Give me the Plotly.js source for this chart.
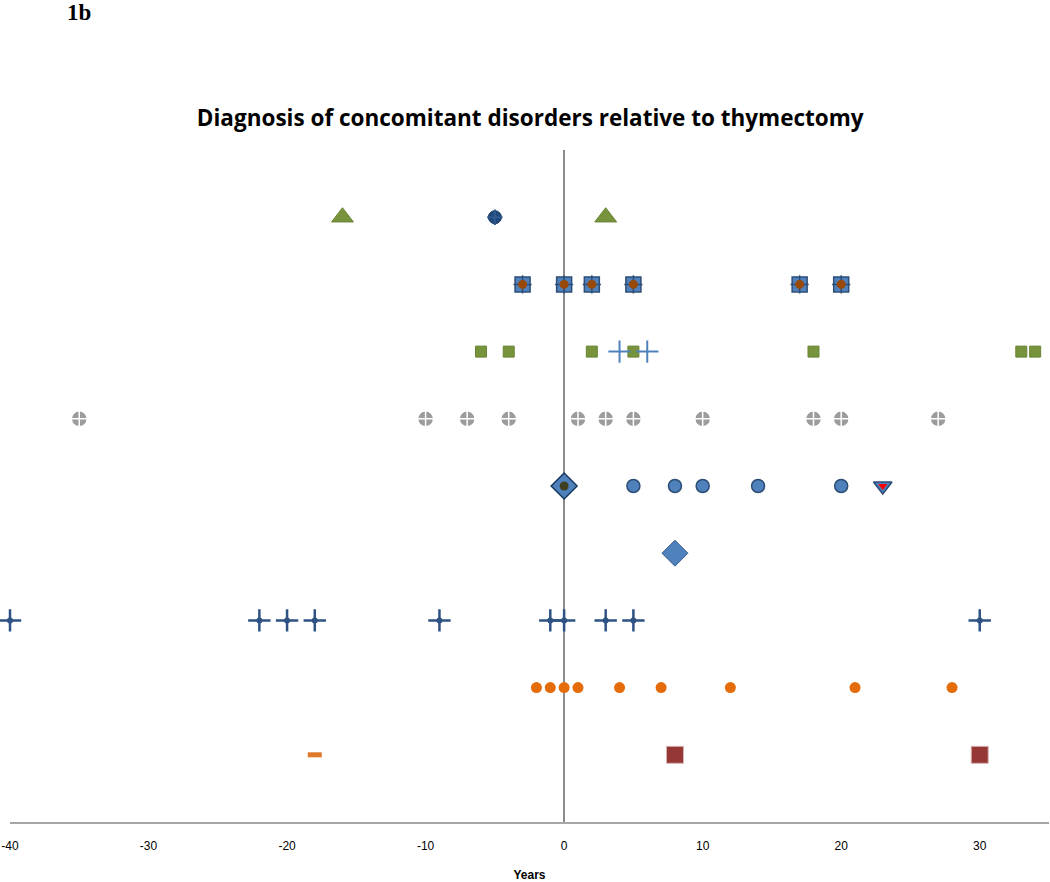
<!DOCTYPE html>
<html><head><meta charset="utf-8">
<script src="https://cdn.plot.ly/plotly-3.0.1.min.js"></script>
<style>body{margin:0;background:#fff}#chart{width:1050px;height:882px}
#lbl{position:absolute;left:67px;top:0px;z-index:10;font-family:"Liberation Serif",serif;font-weight:bold;font-size:23px}</style>
</head><body>
<div id="lbl">1b</div>
<div id="chart"></div>
<script>
// Row positions (1 = bottom row ... 9 = top row)
const row9Triangles = [-16, 3];
const row9Navy = [-5];
const row8Squares = [-3, 0, 2, 5, 17, 20];
const row7Green = [-6, -4, 2, 5, 18, 33, 34];
const row7ThinCross = [4, 6];
const row6Grey = [-35, -10, -7, -4, 1, 3, 5, 10, 18, 20, 27];
const row5Diamond = [0];
const row5Circles = [5, 8, 10, 14, 20];
const row5TriDown = [23];
const row4Diamond = [8];
const row3Cross = [-40, -22, -20, -18, -9, -1, 0, 3, 5, 30];
const row2Orange = [-2, -1, 0, 1, 4, 7, 12, 21, 28];
const row1Dash = [-18];
const row1Squares = [8, 30];

function rowY(xs, r){ return xs.map(()=>r); }
function tr(xs, r, marker){ return {x: xs, y: rowY(xs, r), type:'scatter', mode:'markers', marker: marker, hoverinfo:'x', showlegend:false, cliponaxis:false}; }

const data = [
  tr(row9Triangles, 9, {symbol:'triangle-up', size:19, color:'#77933C', line:{color:'#6a8535', width:1}}),
  tr(row9Navy, 9, {symbol:'circle', size:13, color:'#1F497D', line:{color:'#17375E', width:1}}),
  tr(row9Navy, 9, {symbol:'cross-thin', size:11, line:{color:'#2E5A8E', width:2}}),
  tr(row8Squares, 8, {symbol:'square', size:15, color:'#4F81BD', line:{color:'#2C4D75', width:1.5}}),
  tr(row8Squares, 8, {symbol:'cross-thin', size:13, line:{color:'#2C4D75', width:1.5}}),
  tr(row8Squares, 8, {symbol:'circle', size:9, color:'#984807', line:{width:0}}),
  tr(row7Green, 7, {symbol:'square', size:11, color:'#77933C', line:{color:'#6a8535', width:1}}),
  tr(row7ThinCross, 7, {symbol:'cross-thin', size:16, line:{color:'#4F81BD', width:2}}),
  tr(row6Grey, 6, {symbol:'circle-cross', size:16, color:'#9C9C9C', line:{color:'#ffffff', width:1.5}}),
  tr(row5Diamond, 5, {symbol:'diamond', size:20, color:'#4F81BD', line:{color:'#17375E', width:1.5}}),
  tr(row5Diamond, 5, {symbol:'circle', size:9, color:'#3F3F22', line:{width:0}}),
  tr(row5Circles, 5, {symbol:'circle', size:13, color:'#4F81BD', line:{color:'#2C4D75', width:1.5}}),
  tr(row5TriDown, 5, {symbol:'triangle-down', size:16, color:'#4F81BD', line:{color:'#2C4D75', width:1.5}}),
  tr(row5TriDown, 5, {symbol:'triangle-down', size:8, color:'#FF0000', line:{width:0}}),
  tr(row4Diamond, 4, {symbol:'diamond', size:20, color:'#4F81BD', line:{color:'#385D8A', width:1}}),
  tr(row3Cross, 3, {symbol:'cross-thin', size:16, line:{color:'#2E5283', width:2.5}}),
  tr(row3Cross, 3, {symbol:'circle', size:6, color:'#2E5283', line:{width:0}}),
  tr(row2Orange, 2, {symbol:'circle', size:11, color:'#E46C0A', line:{width:0}}),
  tr(row1Dash, 1, {symbol:'line-ew', size:10, line:{color:'#E0782A', width:5}}),
  tr(row1Squares, 1, {symbol:'square', size:17, color:'#953735', line:{color:'#D8B4B3', width:1}})
];

const layout = {
  width:1050, height:882,
  margin:{l:10, r:1, t:150, b:60},
  paper_bgcolor:'#ffffff', plot_bgcolor:'#ffffff',
  title:{text:'<b>Diagnosis of concomitant disorders relative to thymectomy</b>', x:0.505, xanchor:'center', y:0.866, yanchor:'middle',
         font:{family:'"Open Sans", "Liberation Sans", sans-serif', size:22.5, color:'#000'}},
  xaxis:{range:[-40,35], tickvals:[-40,-30,-20,-10,0,10,20,30], ticktext:['-40','-30','-20','-10','0','10','20','30'],
         showgrid:false, zeroline:true, zerolinecolor:'#8c8c8c', zerolinewidth:1.5,
         showline:true, linecolor:'#a6a6a6', linewidth:2, ticks:'', ticklen:0, ticklabelstandoff:12,
         tickfont:{family:'"Liberation Sans Narrow", "Liberation Sans", sans-serif', size:12, color:'#000'},
         title:{text:'<b>Years</b>', standoff:24, font:{family:'"Liberation Sans Narrow", "Liberation Sans", sans-serif', size:12, color:'#000'}}},
  yaxis:{range:[0,10], showgrid:false, zeroline:false, showline:false, showticklabels:false, ticks:''}
};
Plotly.newPlot('chart', data, layout, {displayModeBar:false, staticPlot:true});
</script>
</body></html>
